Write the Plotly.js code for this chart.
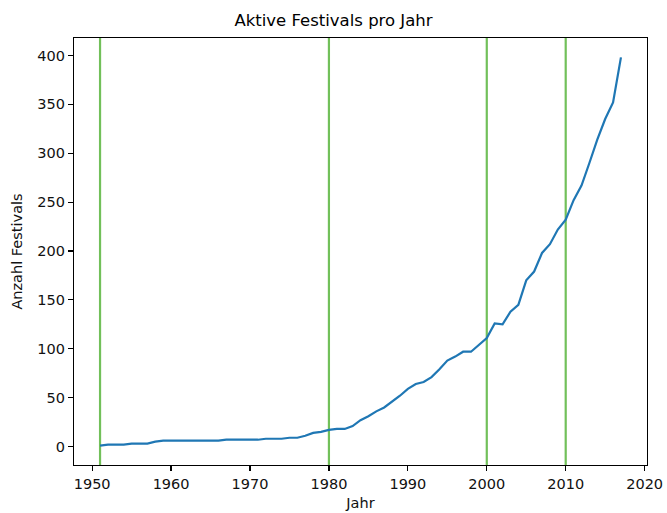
<!DOCTYPE html>
<html>
<head>
<meta charset="utf-8">
<script src="https://cdn.plot.ly/plotly-3.0.1.min.js"></script>
<style>html,body{margin:0;padding:0;background:#fff;}#chart{width:667px;height:513px;}</style>
</head>
<body>
<div id="chart"></div>
<script>
const years = [];
for (let y = 1951; y <= 2017; y++) years.push(y);
const festivals = [
  1, 2, 2, 2, 3, 3, 3, 5, 6, 6,
  6, 6, 6, 6, 6, 6, 7, 7, 7, 7,
  7, 8, 8, 8, 9, 9, 11, 14, 15, 17,
  18, 18, 21, 27, 31, 36, 40, 46, 52, 59,
  64, 66, 71, 79, 88, 92, 97, 97, 104, 111,
  126, 125, 138, 145, 170, 179, 198, 207, 222, 232,
  252, 267, 290, 314, 335, 352, 398
];
const markerYears = [1951, 1980, 2000, 2010];
const xTicks = [1950, 1960, 1970, 1980, 1990, 2000, 2010, 2020];
const yTicks = [0, 50, 100, 150, 200, 250, 300, 350, 400];

const green = '#72c05a';
const shapes = markerYears.map(yr => ({
  type: 'line', xref: 'x', yref: 'paper', x0: yr, x1: yr, y0: 0, y1: 1,
  line: {color: green, width: 2.2}, layer: 'below'
}));

const trace = {
  x: years, y: festivals, type: 'scatter', mode: 'lines',
  line: {color: '#1f77b4', width: 2.2}, hoverinfo: 'skip'
};

const axisCommon = {
  showgrid: false, zeroline: false, showline: true, mirror: true,
  linecolor: '#000', linewidth: 1.2, ticks: 'outside', ticklen: 5,
  tickwidth: 1.2, tickcolor: '#000',
  tickfont: {family: 'DejaVu Sans', size: 14.5, color: '#111'}
};

const layout = {
  width: 667, height: 513,
  margin: {l: 74, r: 20, t: 38, b: 48},
  paper_bgcolor: '#fff', plot_bgcolor: '#fff',
  showlegend: false,
  title: {text: 'Aktive Festivals pro Jahr', x: 0.5, xanchor: 'center', y: 0.961, yanchor: 'middle',
    font: {family: 'DejaVu Sans', size: 16.5, color: '#000'}},
  xaxis: Object.assign({}, axisCommon, {
    range: [1947.7, 2020.3], tickvals: xTicks, ticktext: xTicks.map(String),
    title: {text: 'Jahr', standoff: 7, font: {family: 'DejaVu Sans', size: 14.5, color: '#111'}}
  }),
  yaxis: Object.assign({}, axisCommon, {
    range: [-18.85, 417.85], tickvals: yTicks, ticktext: yTicks.map(String),
    title: {text: 'Anzahl Festivals', standoff: 11, font: {family: 'DejaVu Sans', size: 14.5, color: '#111'}}
  }),
  shapes: shapes
};

Plotly.newPlot('chart', [trace], layout, {staticPlot: true, displayModeBar: false});
</script>
</body>
</html>
